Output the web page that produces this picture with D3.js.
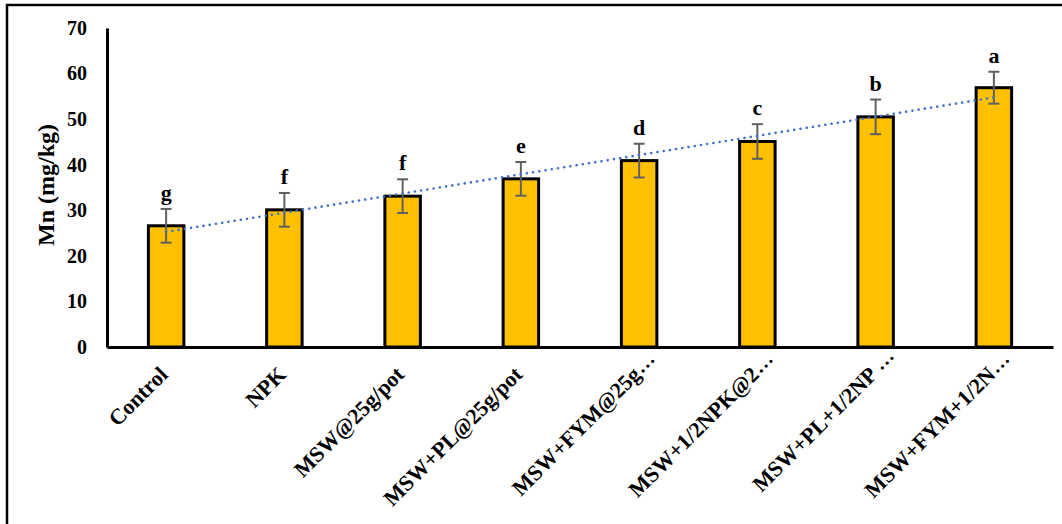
<!DOCTYPE html>
<html>
<head>
<meta charset="utf-8">
<script src="https://cdn.jsdelivr.net/npm/d3@7"></script>
<style>
	body { margin: 0; background: #fff; }
	text { font-family: "Liberation Serif", "Times New Roman", serif; font-weight: bold; }
</style>
</head>
<body>
<svg id="chart" width="1062" height="524"></svg>
<script>
// data
let categories = ["Control", "NPK", "MSW@25g/pot", "MSW+PL@25g/pot", "MSW+FYM@25g\u2026",
	"MSW+1/2NPK@2\u2026", "MSW+PL+1/2NP \u2026", "MSW+FYM+1/2N\u2026"];
let mnValues = [26.6, 30.1, 33.1, 36.9, 40.9, 45.1, 50.5, 56.9];
let mnErrors = [3.7, 3.7, 3.7, 3.7, 3.7, 3.8, 3.8, 3.5];
let letters = ["g", "f", "f", "e", "d", "c", "b", "a"];
let yTicks = [0, 10, 20, 30, 40, 50, 60, 70];

let svg = d3.select("#chart");

// outer frame (only left and top edges fall inside the picture)
svg.append("rect")
	.attr("x", 7).attr("y", 5)
	.attr("width", 1070).attr("height", 540)
	.attr("fill", "none")
	.attr("stroke", "#000")
	.attr("stroke-width", 2.5)

let x = d3.scaleBand()
	.domain(categories)
	.range([107, 1053])
	.paddingInner(0.7)
	.paddingOuter(0.35)

let y = d3.scaleLinear()
	.domain([0, 70])
	.range([347, 28])

let data = categories.map((c, i) => ({cat: c, v: mnValues[i], e: mnErrors[i], l: letters[i]}));
let cx = d => x(d.cat) + x.bandwidth() / 2;

// bars
svg.append("g").selectAll("rect")
	.data(data).enter()
	.append("rect")
	.attr("x", d => x(d.cat))
	.attr("y", d => y(d.v))
	.attr("width", x.bandwidth())
	.attr("height", d => y(0) - y(d.v))
	.attr("fill", "#FFC000")
	.attr("stroke", "#000")
	.attr("stroke-width", 3)

// error bars
let eb = svg.append("g")
	.attr("stroke", "#606060")
	.attr("stroke-width", 2)
	.selectAll("g")
	.data(data).enter()
	.append("g")
eb.append("line")
	.attr("x1", cx).attr("x2", cx)
	.attr("y1", d => y(d.v + d.e)).attr("y2", d => y(d.v - d.e))
eb.append("line")
	.attr("x1", d => cx(d) - 5.5).attr("x2", d => cx(d) + 5.5)
	.attr("y1", d => y(d.v + d.e)).attr("y2", d => y(d.v + d.e))
eb.append("line")
	.attr("x1", d => cx(d) - 5.5).attr("x2", d => cx(d) + 5.5)
	.attr("y1", d => y(d.v - d.e)).attr("y2", d => y(d.v - d.e))

// linear trendline (least squares over category index)
let n = mnValues.length;
let mx = (n + 1) / 2;
let my = d3.mean(mnValues);
let slope = d3.sum(mnValues, (v, i) => (i + 1 - mx) * (v - my)) / d3.sum(mnValues, (v, i) => (i + 1 - mx) ** 2);
let icpt = my - slope * mx;
let trend = data.map((d, i) => [cx(d), y(icpt + slope * (i + 1))]);

svg.append("path")
	.attr("d", d3.line()([trend[0], trend[n - 1]]))
	.attr("fill", "none")
	.attr("stroke", "#4472C4")
	.attr("stroke-width", 2.6)
	.attr("stroke-linecap", "round")
	.attr("stroke-dasharray", "0.1,6.2")

// significance letters
svg.append("g").selectAll("text")
	.data(data).enter()
	.append("text")
	.attr("x", cx)
	.attr("y", d => y(d.v + d.e) - 9)
	.attr("text-anchor", "middle")
	.attr("font-size", "22px")
	.text(d => d.l)

// axes
let yAxis = svg.append("g")
	.attr("transform", "translate(107,0)")
	.call(d3.axisLeft(y).tickValues(yTicks).tickSize(0).tickPadding(20))
yAxis.select(".domain").attr("stroke", "#000").attr("stroke-width", 3)
yAxis.selectAll("text")
	.attr("font-size", "20px")
	.attr("font-family", "Liberation Serif")
	.attr("fill", "#000")

let xAxis = svg.append("g")
	.attr("transform", "translate(0,347)")
	.call(d3.axisBottom(x).tickSize(0).tickFormat(""))
xAxis.select(".domain").attr("stroke", "#000").attr("stroke-width", 3)

// rotated category labels; a trailing ellipsis hangs past the anchor point
let lab = svg.append("g").selectAll("g")
	.data(data).enter()
	.append("g")
	.attr("transform", d => "translate(" + (cx(d) - 8) + ",365) rotate(-45)")
lab.append("text")
	.attr("text-anchor", "end")
	.attr("dy", "0.7em")
	.attr("font-size", "22px")
	.text(d => d.cat.replace(/\s*\u2026$/, ""))
lab.filter(d => d.cat.endsWith("\u2026"))
	.append("text")
	.attr("dx", d => d.cat.endsWith(" \u2026") ? 5 : 1)
	.attr("dy", "0.7em")
	.attr("font-size", "20px")
	.text("\u2026")

// y title
svg.append("text")
	.attr("transform", "translate(46,185) rotate(-90)")
	.attr("text-anchor", "middle")
	.attr("dy", "0.35em")
	.attr("font-size", "24px")
	.text("Mn (mg/kg)")
</script>
</body>
</html>
